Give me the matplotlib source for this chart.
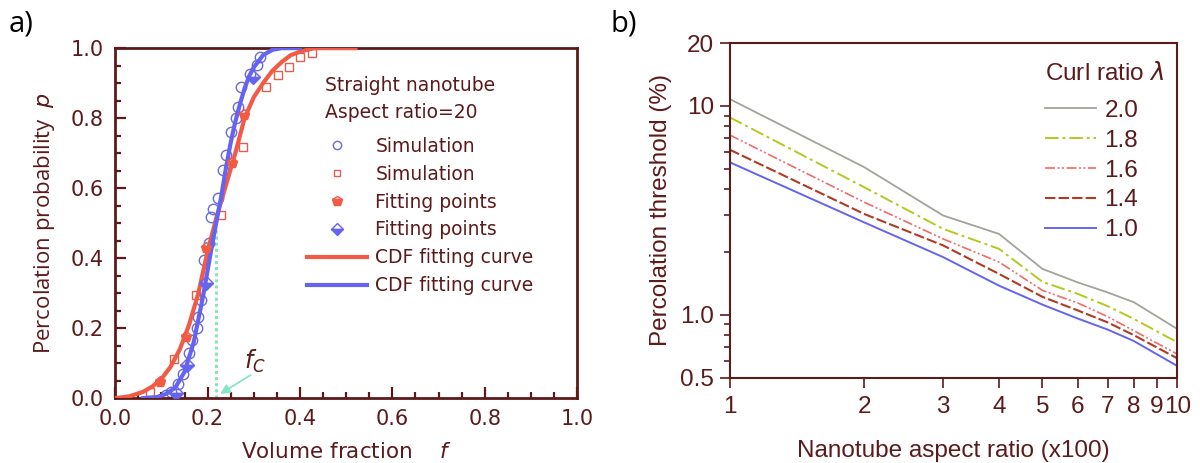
import numpy as np
import matplotlib
matplotlib.use("Agg")
import matplotlib.pyplot as plt
from matplotlib.ticker import FixedLocator, NullFormatter, MultipleLocator
from matplotlib.lines import Line2D

# ---- panel a) data (read off the picture) ----
red_fit_f = [0.00, 0.03, 0.06, 0.08, 0.10, 0.12, 0.14, 0.16, 0.18, 0.20, 0.22, 0.24,
             0.26, 0.28, 0.30, 0.32, 0.34, 0.36, 0.38, 0.40, 0.43, 0.47, 0.52]
red_fit_p = [0.00, 0.005, 0.018, 0.033, 0.055, 0.09, 0.14, 0.21, 0.30, 0.42, 0.52, 0.61,
             0.70, 0.80, 0.86, 0.90, 0.935, 0.96, 0.98, 0.99, 1.0, 1.0, 1.0]
blue_fit_f = [0.06, 0.09, 0.11, 0.13, 0.15, 0.17, 0.19, 0.21, 0.22, 0.23, 0.24, 0.25,
              0.26, 0.27, 0.28, 0.29, 0.30, 0.32, 0.34, 0.36, 0.40]
blue_fit_p = [0.0, 0.003, 0.012, 0.03, 0.075, 0.16, 0.29, 0.44, 0.51, 0.58, 0.66, 0.73,
              0.79, 0.84, 0.885, 0.92, 0.945, 0.98, 0.995, 1.0, 1.0]

red_sim_f = [0.076, 0.127, 0.175, 0.228, 0.277, 0.327, 0.353, 0.376, 0.400, 0.427]
red_sim_p = [0.018, 0.113, 0.294, 0.523, 0.718, 0.889, 0.923, 0.946, 0.975, 0.987]
blue_sim_f = [0.109, 0.120, 0.135, 0.146, 0.160, 0.167, 0.176, 0.179, 0.186, 0.193, 0.204,
              0.207, 0.212, 0.222, 0.233, 0.240, 0.251, 0.262, 0.266, 0.273, 0.291, 0.306, 0.313]
blue_sim_p = [0.008, 0.017, 0.040, 0.070, 0.128, 0.166, 0.200, 0.233, 0.280, 0.394, 0.442,
              0.519, 0.540, 0.571, 0.652, 0.695, 0.760, 0.800, 0.833, 0.890, 0.927, 0.952, 0.975]
red_pts_f = [0.098, 0.153, 0.197, 0.253, 0.279]
red_pts_p = [0.047, 0.175, 0.428, 0.672, 0.809]
blue_pts_f = [0.131, 0.156, 0.197, 0.298]
blue_pts_p = [0.014, 0.094, 0.328, 0.918]
fc = 0.218
fc_top = 0.48

# ---- panel b) data ----
aspect = [1, 2, 3, 4, 5, 6, 7, 8, 10]
curl_labels = ["2.0", "1.8", "1.6", "1.4", "1.0"]
thr_20 = [10.8, 5.09, 2.99, 2.44, 1.66, 1.43, 1.28, 1.15, 0.857]
thr_18 = [8.83, 4.08, 2.58, 2.07, 1.44, 1.26, 1.10, 0.957, 0.74]
thr_16 = [7.27, 3.46, 2.31, 1.79, 1.31, 1.14, 0.98, 0.84, 0.65]
thr_14 = [6.18, 3.04, 2.15, 1.57, 1.22, 1.05, 0.92, 0.80, 0.62]
thr_10 = [5.38, 2.77, 1.89, 1.38, 1.12, 0.96, 0.85, 0.75, 0.57]

maroon = "#5c1a1a"
red = "#f25a45"
blue = "#6464f0"

fig = plt.figure(figsize=(12, 4.63), dpi=100)

# ================= panel a =================
ax1 = fig.add_axes([0.096, 0.140, 0.385, 0.756])
lf = ["DejaVu Sans"]

ax1.plot(red_fit_f, red_fit_p, color=red, lw=3, zorder=3)
ax1.plot(blue_fit_f, blue_fit_p, color=blue, lw=3, zorder=4)
ax1.plot(red_sim_f, red_sim_p, ls="none", marker="s", ms=6, mfc="none", mec="#e0604f", mew=1, zorder=2)
ax1.plot(blue_sim_f, blue_sim_p, ls="none", marker="o", ms=7.5, mfc="none", mec="#6a6ad8", mew=1, zorder=2)
ax1.plot(red_pts_f, red_pts_p, ls="none", marker="p", ms=8, fillstyle="bottom", color=red, mec=red, zorder=5)
ax1.plot(blue_pts_f, blue_pts_p, ls="none", marker="D", ms=7, fillstyle="bottom", color=blue, mec=blue, zorder=5)

ax1.plot([fc, fc], [0, fc_top], color="#86e6b8", lw=2.2, ls=(0, (1, 1)), zorder=1)
ax1.annotate("", xy=(fc + 0.004, 0.008), xytext=(0.298, 0.07),
             arrowprops=dict(arrowstyle="-|>", color="#86e6c4", lw=1.3, mutation_scale=14))
ax1.text(0.302, 0.105, "$f_C$", color=maroon, fontsize=17, ha="center", va="center")

ax1.set_xlim(0, 1)
ax1.set_ylim(0, 1)
ax1.xaxis.set_major_locator(MultipleLocator(0.2))
ax1.xaxis.set_minor_locator(MultipleLocator(0.05))
ax1.yaxis.set_major_locator(MultipleLocator(0.2))
ax1.yaxis.set_minor_locator(MultipleLocator(0.05))
ax1.xaxis.set_major_formatter(plt.FuncFormatter(lambda v, p: "%.1f" % v))
ax1.yaxis.set_major_formatter(plt.FuncFormatter(lambda v, p: "%.1f" % v))
ax1.tick_params(which="both", direction="in", colors=maroon, width=1.6, labelsize=15,
                top=False, right=False, labelcolor=maroon)
ax1.tick_params(which="major", length=8, pad=8)
ax1.tick_params(which="minor", length=4)
for lab in ax1.get_xticklabels() + ax1.get_yticklabels():
    lab.set_family(lf)
for s in ax1.spines.values():
    s.set_color(maroon)
    s.set_linewidth(2)

ax1.set_xlabel("Volume fraction    $f$", fontsize=15.5, color=maroon, family=lf, labelpad=9)
ax1.set_ylabel("Percolation probability  $p$", fontsize=16, color=maroon,
               family=["Open Sans", "DejaVu Sans"], labelpad=10)

ax1.text(0.455, 0.894, "Straight nanotube", transform=ax1.transAxes, fontsize=13.5,
         color=maroon, family=lf, va="center")
ax1.text(0.455, 0.817, "Aspect ratio=20", transform=ax1.transAxes, fontsize=13.5,
         color=maroon, family=lf, va="center")

handles = [
    Line2D([], [], ls="none", marker="o", ms=6, mfc="none", mec="#6a6ad8"),
    Line2D([], [], ls="none", marker="s", ms=5, mfc="none", mec="#e0604f"),
    Line2D([], [], ls="none", marker="p", ms=7, fillstyle="bottom", color=red, mec=red),
    Line2D([], [], ls="none", marker="D", ms=6, fillstyle="bottom", color=blue, mec=blue),
    Line2D([], [], color=red, lw=3),
    Line2D([], [], color=blue, lw=3),
]
labels = ["Simulation", "Simulation", "Fitting points", "Fitting points",
          "CDF fitting curve", "CDF fitting curve"]
leg = ax1.legend(handles, labels, loc="upper left", bbox_to_anchor=(307 / 1200, 1 - 137 / 463),
                 bbox_transform=fig.transFigure, frameon=False, borderpad=0, borderaxespad=0,
                 handlelength=3.2, handletextpad=0.45, labelspacing=0.47,
                 prop={"family": lf, "size": 13.5})
for t in leg.get_texts():
    t.set_color(maroon)

# ================= panel b =================
ax2 = fig.add_axes([0.608, 0.184, 0.373, 0.723])
rf = ["Liberation Sans", "DejaVu Sans"]

ax2.plot(aspect, thr_20, color="#a3a39b", lw=1.3, ls="-")
ax2.plot(aspect, thr_18, color="#b5c81e", lw=1.4, ls=(0, (7, 2, 1.5, 2)))
ax2.plot(aspect, thr_16, color="#f26b6b", lw=1.2, ls=(0, (6, 1.5, 1.2, 1.5, 1.2, 1.5)))
ax2.plot(aspect, thr_14, color="#b23a22", lw=1.5, ls=(0, (5, 1.5)))
ax2.plot(aspect, thr_10, color="#6464f0", lw=1.4, ls="-")

ax2.set_xscale("log")
ax2.set_yscale("log")
ax2.set_xlim(1, 10)
ax2.set_ylim(0.5, 20)
ax2.xaxis.set_major_locator(FixedLocator(list(range(1, 11))))
ax2.xaxis.set_minor_locator(FixedLocator([]))
ax2.set_xticklabels([str(v) for v in range(1, 11)])
ax2.yaxis.set_major_locator(FixedLocator([0.5, 1.0, 10, 20]))
ax2.yaxis.set_minor_locator(FixedLocator([0.6, 0.7, 0.8, 0.9, 2, 3, 4, 5, 6, 7, 8, 9]))
ax2.yaxis.set_minor_formatter(NullFormatter())
ax2.set_yticklabels(["0.5", "1.0", "10", "20"])
ax2.tick_params(which="both", direction="out", colors=maroon, width=1.2, labelsize=17.5,
                labelcolor=maroon)
ax2.tick_params(which="major", length=7, pad=4)
ax2.tick_params(which="minor", length=4)
ax2.tick_params(axis="x", pad=6)
for lab in ax2.get_xticklabels() + ax2.get_yticklabels():
    lab.set_family(rf)
for s in ax2.spines.values():
    s.set_color(maroon)
    s.set_linewidth(1.5)

ax2.set_xlabel("Nanotube aspect ratio (x100)", fontsize=17.5, color=maroon, family=rf, labelpad=16)
ax2.set_ylabel("Percolation threshold (%)", fontsize=17.5, color=maroon, family=rf, labelpad=6)

leg2 = ax2.legend(curl_labels, loc="upper left", bbox_to_anchor=(1045 / 1200, 1 - 62 / 463),
                  bbox_transform=fig.transFigure, frameon=False, borderpad=0, borderaxespad=0,
                  handlelength=2.1, handletextpad=0.35, labelspacing=0.32,
                  title="Curl ratio $\\lambda$", title_fontproperties={"family": rf, "size": 17.5},
                  prop={"family": rf, "size": 17.5})
leg2._legend_box.align = "left"
leg2._legend_box.sep = 0.32 * 17.5 * 100 / 72 + 3
leg2.get_title().set_color(maroon)
for t in leg2.get_texts():
    t.set_color(maroon)

# panel letters
fig.text(0.007, 0.948, "a)", fontsize=21, family=["Open Sans", "DejaVu Sans"], va="center")
fig.text(0.509, 0.948, "b)", fontsize=21, family=["Open Sans", "DejaVu Sans"], va="center")

fig.savefig("out.png", dpi=100, facecolor="white")
